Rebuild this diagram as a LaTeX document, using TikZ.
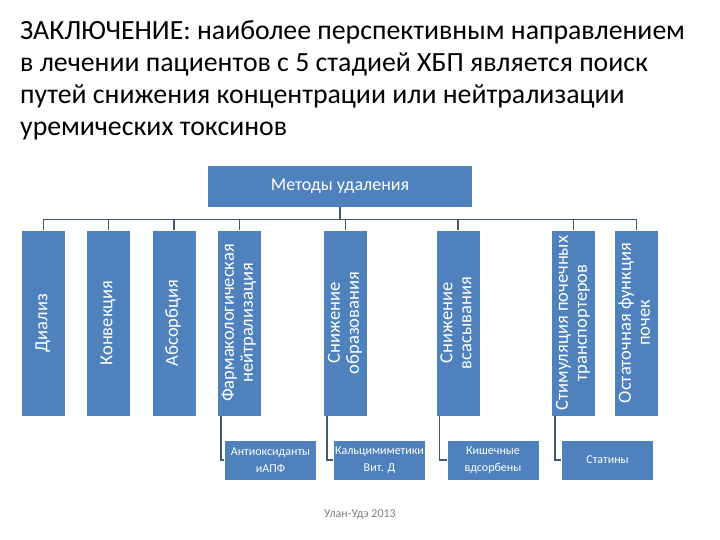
\documentclass[tikz,border=0pt]{standalone}
\usepackage{fontspec}
\setmainfont{Carlito}
\begin{document}
\begin{tikzpicture}[x=1pt,y=-1pt,
  box/.style={draw=white,line width=0.8pt,fill=boxblue,text=white,inner sep=1pt,align=center},
  kid/.style={box,minimum width=44pt,minimum height=186pt,font=\fontsize{18.5}{19}\selectfont},
  sub/.style={box,minimum width=92pt,minimum height=40pt,font=\fontsize{12}{17}\selectfont},
  conn/.style={draw=lineblue,line width=1.6pt}]
\definecolor{boxblue}{HTML}{4F81BD}
\definecolor{lineblue}{HTML}{3F5972}
\newcommand{\vt}[1]{\rotatebox{90}{\begin{tabular}{@{}c@{}}#1\end{tabular}}}
\useasboundingbox (0,0) rectangle (720,540);
\fill[white] (0,0) rectangle (720,540);
\node[anchor=north west,align=left,font=\fontsize{27.8}{32}\selectfont,inner sep=0pt] (title) at (20,20)
{ЗАКЛЮЧЕНИЕ: наиболее перспективным направлением\\в лечении пациентов с 5 стадией ХБП является поиск\\путей снижения концентрации или нейтрализации\\уремических токсинов};
\node[box,minimum width=265pt,minimum height=42pt,font=\fontsize{18}{20}\selectfont] (top) at (340,186) {Методы удаления};
\node[kid] (k1) at (43.5,323) {\vt{Диализ}};
\node[kid] (k2) at (108.5,323) {\vt{Конвекция}};
\node[kid] (k3) at (174,323) {\vt{Абсорбция}};
\node[kid] (k4) at (239.5,323) {\vt{Фармакологическая\\нейтрализация}};
\node[kid] (k5) at (345.5,323) {\vt{Снижение\\образования}};
\node[kid] (k6) at (458,323) {\vt{Снижение\\всасывания}};
\node[kid] (k7) at (573.5,323) {\vt{Стимуляция почечных\\транспортеров}};
\node[kid] (k8) at (636.5,323) {\vt{Остаточная функция\\почек}};
\coordinate (bus) at (340,220);
\draw[conn] (top.south) -- (bus);
\draw[conn] (k1.north) -- ++(0,-10) -| (k8.north);
\foreach \k in {k2,k3,k4,k5,k6,k7}{\draw[conn] (\k.north) -- ++(0,-10);}
\node[sub] (s1) at (270.5,460) {Антиоксиданты\\иАПФ};
\node[sub] (s2) at (379.5,460) {Кальцимиметики\\Вит. Д};
\node[sub] (s3) at (493,460) {Кишечные\\вдсорбены};
\node[sub] (s4) at (607.5,460) {Статины};
\foreach \k/\s in {k4/s1,k5/s2,k6/s3,k7/s4}{\draw[conn] ([xshift=4pt]\k.south west) |- (\s.west);}
\node[font=\fontsize{12}{14}\selectfont,text=gray] (foot) at (360,515) {Улан-Удэ 2013};
\end{tikzpicture}
\end{document}
